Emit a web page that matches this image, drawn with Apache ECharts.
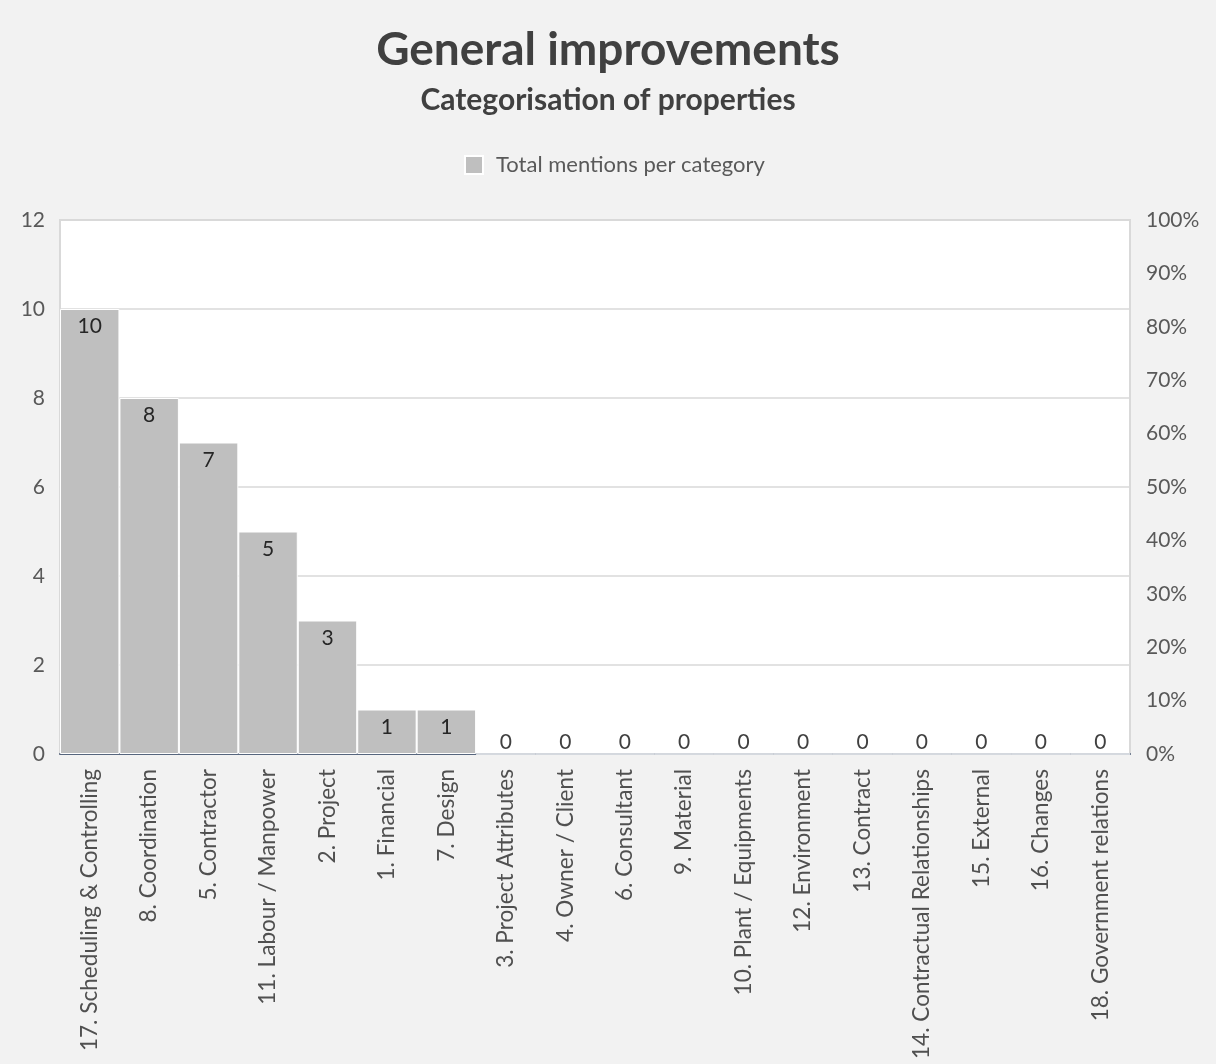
<!DOCTYPE html>
<html>
<head>
<meta charset="utf-8">
<script src="https://cdn.jsdelivr.net/npm/echarts@6/dist/echarts.min.js"></script>
<style>
  html, body { margin: 0; padding: 0; background: #f2f2f2; }
  #chart { width: 1216px; height: 1064px; }
</style>
</head>
<body>
<div id="chart"></div>
<script>
// Categories sorted by number of mentions
const categories = [
  '17. Scheduling & Controlling', '8. Coordination', '5. Contractor',
  '11. Labour / Manpower', '2. Project', '1. Financial', '7. Design',
  '3. Project Attributes', '4. Owner / Client', '6. Consultant', '9. Material',
  '10. Plant / Equipments', '12. Environment', '13. Contract',
  '14. Contractual Relationships', '15. External', '16. Changes',
  '18. Government relations'
];
const mentions = [10, 8, 7, 5, 3, 1, 1, 0, 0, 0, 0, 0, 0, 0, 0, 0, 0, 0];
const leftTicks = [0, 12, 2];      // min, max, interval
const rightTicks = [0, 1, 0.1];    // share axis (0% – 100%)

const FONT = 'Lato';
const chart = echarts.init(document.getElementById('chart'));

chart.setOption({
  backgroundColor: '#f2f2f2',
  textStyle: { fontFamily: FONT },
  title: [
    {
      text: 'General improvements', left: 'center', top: 22,
      textStyle: { fontFamily: FONT, fontSize: 46, fontWeight: 'bold', color: '#404040' }
    },
    {
      text: 'Categorisation of properties', left: 'center', top: 80,
      textStyle: { fontFamily: FONT, fontSize: 30, fontWeight: 'bold', color: '#404040' }
    }
  ],
  legend: {
    top: 149, left: 459,
    itemWidth: 18, itemHeight: 18, itemGap: 12,
    icon: 'rect',
    textStyle: { fontFamily: FONT, fontSize: 22, color: '#595959', padding: [0, 0, 0, 8] },
    data: ['Total mentions per category']
  },
  grid: {
    left: 60, right: 86, top: 220, bottom: 310,
    show: true, backgroundColor: '#ffffff', borderColor: '#d9d9d9', borderWidth: 2
  },
  xAxis: {
    type: 'category',
    data: categories,
    axisTick: { show: false },
    axisLine: { lineStyle: { color: '#56657d', width: 2 } },
    axisLabel: {
      rotate: 90, interval: 0, margin: 15,
      fontFamily: FONT, fontSize: 22.6, color: '#505050'
    }
  },
  yAxis: [
    {
      type: 'value', min: leftTicks[0], max: leftTicks[1], interval: leftTicks[2],
      axisLine: { show: false }, axisTick: { show: false },
      axisLabel: { fontFamily: FONT, fontSize: 21, color: '#595959', margin: 15 },
      splitLine: { lineStyle: { color: '#d9d9d9', width: 1.5 } }
    },
    {
      type: 'value', min: rightTicks[0], max: rightTicks[1], interval: rightTicks[2],
      position: 'right',
      axisLine: { show: false }, axisTick: { show: false },
      axisLabel: {
        fontFamily: FONT, fontSize: 21, color: '#595959', margin: 16,
        formatter: v => Math.round(v * 100) + '%'
      },
      splitLine: { show: false }
    }
  ],
  series: [
    {
      name: 'Total mentions per category',
      type: 'bar',
      yAxisIndex: 0,
      barCategoryGap: '0%',
      itemStyle: { color: '#bfbfbf', borderColor: '#ffffff', borderWidth: 1 },
      label: {
        show: true, position: 'insideTop', distance: 7,
        fontFamily: FONT, fontSize: 21, color: '#262626'
      },
      data: mentions.map(v => v === 0
        ? { value: v, label: { position: 'top', distance: 1, color: '#404040' } }
        : v)
    }
  ]
});
</script>
</body>
</html>
